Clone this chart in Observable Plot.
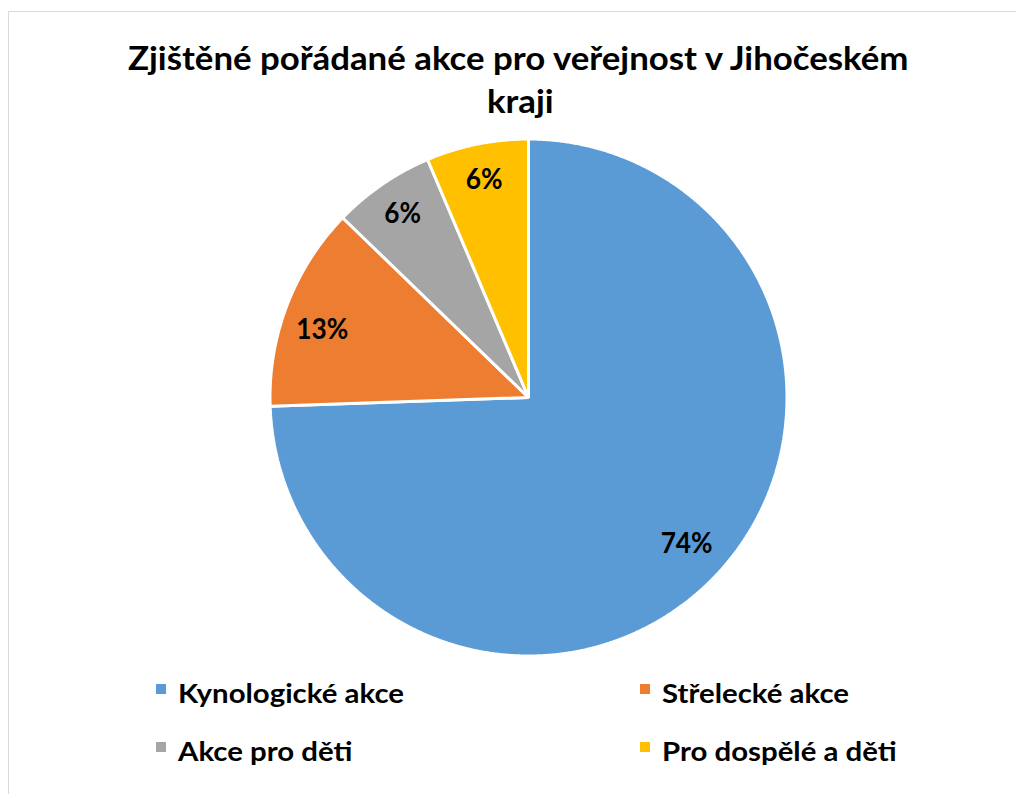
<!DOCTYPE html>
<html>
<head>
<meta charset="utf-8">
<script src="https://cdn.jsdelivr.net/npm/d3@7"></script>
<script src="https://cdn.jsdelivr.net/npm/@observablehq/plot@0.6"></script>
<style>
  html, body { margin: 0; padding: 0; background: #fff; }
  #wrap { position: relative; width: 1016px; height: 794px; overflow: hidden; font-family: Lato, "Open Sans", sans-serif; font-weight: bold; color: #000; }
  #frame { position: absolute; left: 8px; top: 11px; width: 1100px; height: 900px; border: 1.5px solid #d9d9d9; box-sizing: border-box; }
  #chart { position: absolute; left: 0; top: 0; }
  .tline { position: absolute; left: 520px; white-space: nowrap; transform-origin: 0 0; }
  .leg { position: absolute; white-space: nowrap; }
  .sw { position: absolute; width: 10px; height: 10px; }
</style>
</head>
<body>
<div id="wrap">
  <div id="frame"></div>
  <div id="chart"></div>
</div>
<script>
const titleLines = ["Zjištěné pořádané akce pro veřejnost v Jihočeském", "kraji"];
const categories = ["Kynologické akce", "Střelecké akce", "Akce pro děti", "Pro dospělé a děti"];
const values = [35, 6, 3, 3];
const labels = ["74%", "13%", "6%", "6%"];
const colors = ["#5B9BD5", "#ED7D31", "#A5A5A5", "#FFC000"];

const FAMILY = "Lato";
const ctx = document.createElement("canvas").getContext("2d");
function measure(text, size) {
  ctx.font = `bold ${size}px ${FAMILY}`;
  return ctx.measureText(text).width;
}
const wrap = document.getElementById("wrap");

// title: font size chosen for glyph height, horizontally compressed to the reference width
const tSize = 33;
const tScale = 784 / measure(titleLines[0], tSize);
const tBaselines = [67, 110];
titleLines.forEach((t, i) => {
  const d = document.createElement("div");
  d.className = "tline";
  d.style.fontSize = tSize + "px";
  d.style.lineHeight = "1";
  const w = measure(t, tSize) * tScale;
  d.style.left = (520 - w / 2) + "px";
  d.style.top = (tBaselines[i] - tSize * 0.8) + "px";
  d.style.transform = `scaleX(${tScale})`;
  d.textContent = t;
  wrap.appendChild(d);
});

// pie geometry
const pie = d3.pie().sort(null).value(d => d)(values);
const pts = [];
pie.forEach((s, i) => {
  const cat = categories[i];
  pts.push({cat, x: 0, y: 0});
  const n = Math.max(2, Math.ceil((s.endAngle - s.startAngle) / 0.005));
  for (let k = 0; k <= n; k++) {
    const a = s.startAngle + (s.endAngle - s.startAngle) * k / n;
    pts.push({cat, x: Math.sin(a), y: Math.cos(a)});
  }
});
// label placement tweaks (layout only)
const labelR = [0.835, 0.84, 0.86, 0.86];
const labelShift = [-0.02, -0.05, 0, 0]; // radians, counter-clockwise shift
const labelData = pie.map((s, i) => {
  const a = (s.startAngle + s.endAngle) / 2 + labelShift[i];
  return {label: labels[i], x: Math.sin(a) * labelR[i], y: Math.cos(a) * labelR[i]};
});

const cx = 528, cy = 397, R = 258.5;
const lSize = 28;
const lScale = 52 / measure("13%", lSize);
const plot = Plot.plot({
  width: 1016,
  height: 794,
  margin: 0,
  x: {domain: [-1, 1], range: [cx - R, cx + R], axis: null},
  y: {domain: [-1, 1], range: [cy + R, cy - R], axis: null},
  color: {domain: categories, range: colors},
  style: {background: "transparent", overflow: "visible"},
  marks: [
    Plot.line(pts, {x: "x", y: "y", z: "cat", fill: "cat", stroke: "white", strokeWidth: 3, strokeLinejoin: "miter", curve: "linear-closed"}),
    Plot.text(labelData, {x: "x", y: "y", text: "label", fontSize: lSize, fontWeight: "bold", fontFamily: FAMILY, fill: "black"})
  ]
});
plot.querySelectorAll("text").forEach(t => {
  const w = measure(t.textContent, lSize) * lScale;
  t.setAttribute("textLength", w);
  t.setAttribute("lengthAdjust", "spacingAndGlyphs");
});
document.getElementById("chart").appendChild(plot);

// legend
const legSize = 26;
const legScale = 226 / measure(categories[0], legSize);
const legPos = [[156, 701], [640, 701], [156, 759], [640, 759]]; // marker left, text baseline
categories.forEach((c, i) => {
  const [lx, by] = legPos[i];
  const sw = document.createElement("div");
  sw.className = "sw";
  sw.style.background = colors[i];
  sw.style.left = lx + "px";
  sw.style.top = (by - 17) + "px";
  wrap.appendChild(sw);
  const d = document.createElement("div");
  d.className = "leg";
  d.style.fontSize = legSize + "px";
  d.style.lineHeight = "1";
  d.style.left = (lx + 22) + "px";
  d.style.top = (by - legSize * 0.8) + "px";
  d.style.transformOrigin = "0 0";
  d.style.transform = `scaleX(${legScale})`;
  d.textContent = c;
  wrap.appendChild(d);
});
</script>
</body>
</html>
